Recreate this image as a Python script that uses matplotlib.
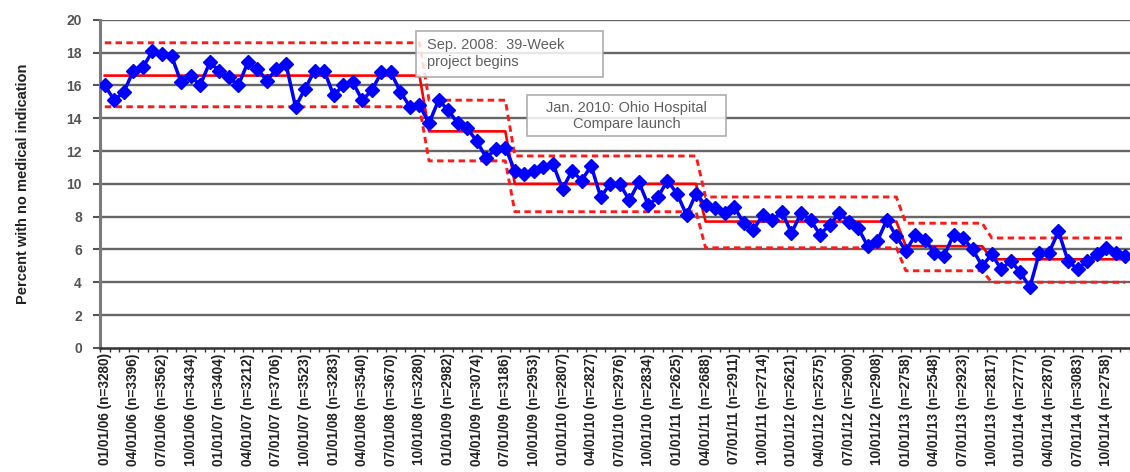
import matplotlib
matplotlib.use("Agg")
import matplotlib.pyplot as plt
from matplotlib.patches import Rectangle
import numpy as np

plt.rcParams['font.family'] = ['Liberation Sans', 'DejaVu Sans']

# monthly percent, Jan 2006 .. Dec 2014
pct = [16.0, 15.1, 15.6, 16.9, 17.1, 18.1, 17.9, 17.8, 16.2, 16.6,
       16.0, 17.4, 16.9, 16.5, 16.0, 17.4, 17.0, 16.3, 17.0, 17.3,
       14.7, 15.8, 16.9, 16.9, 15.4, 16.0, 16.2, 15.1, 15.7, 16.8,
       16.8, 15.6, 14.7, 14.8, 13.7, 15.1, 14.5, 13.7, 13.4, 12.6,
       11.6, 12.1, 12.2, 10.8, 10.6, 10.8, 11.0, 11.2, 9.7, 10.8,
       10.2, 11.1, 9.2, 10.0, 10.0, 9.0, 10.1, 8.7, 9.2, 10.2,
       9.4, 8.1, 9.4, 8.7, 8.5, 8.2, 8.6, 7.6, 7.2, 8.1,
       7.8, 8.3, 7.0, 8.2, 7.8, 6.9, 7.5, 8.2, 7.7, 7.3,
       6.2, 6.5, 7.8, 6.8, 5.9, 6.9, 6.6, 5.8, 5.6, 6.9,
       6.7, 6.0, 5.0, 5.7, 4.8, 5.3, 4.6, 3.7, 5.8, 5.8,
       7.1, 5.3, 4.8, 5.3, 5.7, 6.1, 5.8, 5.6]

# control chart phases (first month of each phase)
phase_start = [0, 34, 43, 63, 84, 93]
center = [16.6, 13.2, 10.0, 7.7, 6.2, 5.4]
ucl = [18.6, 15.1, 11.7, 9.2, 7.6, 6.7]
lcl = [14.7, 11.4, 8.3, 6.1, 4.7, 4.0]

tick_dates = ['01/01/06', '04/01/06', '07/01/06', '10/01/06',
              '01/01/07', '04/01/07', '07/01/07', '10/01/07',
              '01/01/08', '04/01/08', '07/01/08', '10/01/08',
              '01/01/09', '04/01/09', '07/01/09', '10/01/09',
              '01/01/10', '04/01/10', '07/01/10', '10/01/10',
              '01/01/11', '04/01/11', '07/01/11', '10/01/11',
              '01/01/12', '04/01/12', '07/01/12', '10/01/12',
              '01/01/13', '04/01/13', '07/01/13', '10/01/13',
              '01/01/14', '04/01/14', '07/01/14', '10/01/14']
tick_n = [3280, 3396, 3562, 3434, 3404, 3212, 3706, 3523, 3283, 3540,
          3670, 3280, 2982, 3074, 3186, 2953, 2807, 2827, 2976, 2834,
          2625, 2688, 2911, 2714, 2621, 2575, 2900, 2908, 2758, 2548,
          2923, 2817, 2777, 2870, 3083, 2758]

n = len(pct)
x = np.arange(n)
bounds = phase_start + [n]

def stepped(vals):
    out = np.zeros(n)
    for i, v in enumerate(vals):
        out[bounds[i]:bounds[i + 1]] = v
    return out

fig = plt.figure(figsize=(11.3, 4.72), dpi=100)
ax = fig.add_axes([0.0885, 0.263, 0.9115, 0.695])

for yv in range(2, 21, 2):
    ax.axhline(yv, color='#666666', lw=1.7, zorder=1)

ax.plot(x, stepped(ucl), color='#ff1a1a', lw=2.1, dashes=(2.2, 1.5), zorder=2)
ax.plot(x, stepped(lcl), color='#ff1a1a', lw=2.1, dashes=(2.2, 1.5), zorder=2)
ax.plot(x, stepped(center), color='#ff0000', lw=1.9, zorder=3)
ax.plot(x, pct, color='#0000ff', lw=2.5, marker='D', markersize=7, zorder=4)

# annotation boxes
ax.add_patch(Rectangle((32.6, 16.5), 19.6, 2.8, facecolor='white',
                       edgecolor='#a0a0a0', lw=1.2, alpha=0.85, zorder=5))
ax.text(33.8, 17.95, 'Sep. 2008:  39-Week\nproject begins', fontsize=10.5,
        color='#606060', ha='left', va='center', linespacing=1.25, zorder=6)
ax.add_patch(Rectangle((44.3, 12.9), 20.8, 2.5, facecolor='white',
                       edgecolor='#a0a0a0', lw=1.2, alpha=0.85, zorder=5))
ax.text(54.7, 14.15, 'Jan. 2010: Ohio Hospital\nCompare launch', fontsize=10.5,
        color='#606060', ha='center', va='center', linespacing=1.2, zorder=6)

ax.set_xlim(-0.5, n - 0.5)
ax.set_ylim(0, 20)
ax.set_yticks(range(0, 21, 2))
ax.tick_params(axis='y', labelsize=10, colors='#555555', length=5, width=1.5, pad=8)
for t in ax.get_yticklabels():
    t.set_fontweight('bold')

labels = ['%s (n=%d)' % (d, v) for d, v in zip(tick_dates, tick_n)]
ax.set_xticks(np.arange(0, n, 3))
ax.set_xticklabels(labels, rotation=90, fontsize=9.8, fontweight='bold', color='#222222')
ax.set_xticks(np.arange(-0.5, n, 1), minor=True)
ax.tick_params(axis='x', which='major', length=0, pad=4)
ax.tick_params(axis='x', which='minor', length=3, width=1, color='#333333')

for s in ['top', 'right']:
    ax.spines[s].set_visible(False)
ax.spines['left'].set_color('#7a7a7a')
ax.spines['left'].set_linewidth(2.2)
ax.spines['bottom'].set_color('#333333')
ax.spines['bottom'].set_linewidth(1.8)

fig.text(0.02, 0.61, 'Percent with no medical indication', rotation=90,
         fontsize=10.5, fontweight='bold', color='#222222', ha='center', va='center')

fig.savefig('out.png', dpi=100)
